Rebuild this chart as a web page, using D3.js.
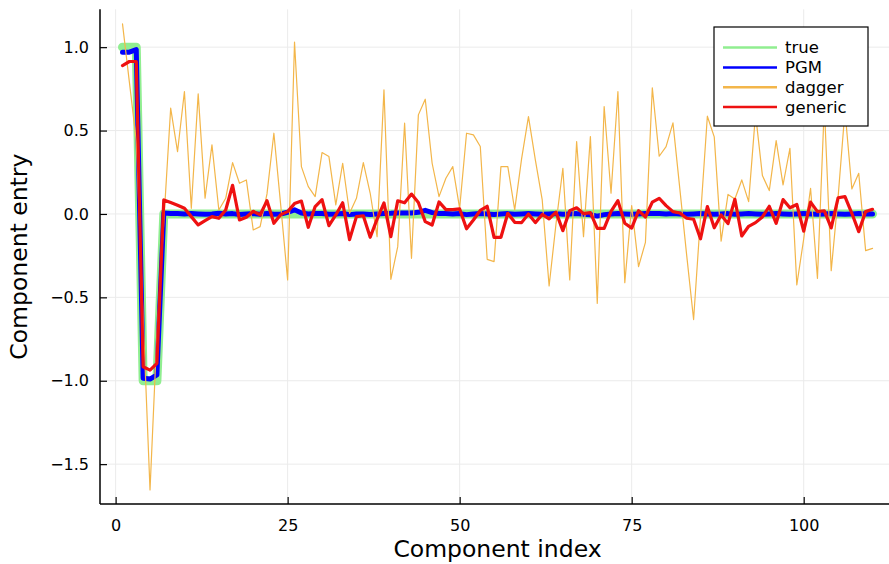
<!DOCTYPE html>
<html lang="en">
<head>
  <meta charset="UTF-8" />
  <title>Component entries</title>
  <script src="https://d3js.org/d3.v7.min.js"></script>
  <style>
    body { margin: 0; background: #fff; }
    svg { display: block; font-family: "DejaVu Sans", sans-serif; }
    .tick text { font-size: 16px; fill: #000; }
    .grid line { stroke: #ebebeb; stroke-width: 1px; }
    .series { fill: none; stroke-linejoin: round; stroke-linecap: round; }
    .axis-title { font-size: 23.5px; }
    .legend text { font-size: 16.5px; }
  </style>
</head>
<body>

<svg width="889" height="564"></svg>

<script>
  // series values, one per component index 1..110
  const trueVals = [
    1, 1, 1, -1, -1, -1, 0, 0, 0, 0,
    0, 0, 0, 0, 0, 0, 0, 0, 0, 0,
    0, 0, 0, 0, 0, 0, 0, 0, 0, 0,
    0, 0, 0, 0, 0, 0, 0, 0, 0, 0,
    0, 0, 0, 0, 0, 0, 0, 0, 0, 0,
    0, 0, 0, 0, 0, 0, 0, 0, 0, 0,
    0, 0, 0, 0, 0, 0, 0, 0, 0, 0,
    0, 0, 0, 0, 0, 0, 0, 0, 0, 0,
    0, 0, 0, 0, 0, 0, 0, 0, 0, 0,
    0, 0, 0, 0, 0, 0, 0, 0, 0, 0,
    0, 0, 0, 0, 0, 0, 0, 0, 0, 0
  ];
  const pgm = [
    0.97, 0.97, 0.985, -0.985, -0.99, -0.965, 0.005, 0.003, 0.002, 0.0,
    0.002, 0.0, -0.002, 0.0, 0.004, 0.0, 0.002, -0.003, 0.0, 0.002,
    -0.002, 0.003, -0.002, 0.0, 0.01, 0.025, 0.006, 0.0, 0.002, 0.003,
    -0.002, 0.0, 0.003, -0.004, 0.0, 0.0, -0.003, 0.0, 0.003, 0.004,
    0.006, 0.005, 0.006, 0.01, 0.022, 0.008, 0.003, 0.002, 0.0, 0.002,
    -0.004, 0.0, 0.002, 0.0, -0.003, 0.0, 0.002, -0.002, 0.0, 0.002,
    0.0, -0.002, 0.0, 0.002, -0.002, 0.0, 0.002, -0.002, -0.005, -0.013,
    -0.004, 0.0, 0.002, 0.0, -0.002, 0.0, 0.002, 0.003, 0.002, 0.0,
    0.002, 0.0, -0.002, 0.0, 0.002, 0.0, -0.002, 0.0, 0.002, -0.002,
    0.0, 0.002, 0.0, -0.002, 0.0, 0.002, 0.0, -0.002, 0.0, 0.002,
    0.0, -0.002, 0.0, 0.002, 0.0, -0.002, 0.0, 0.002, 0.0, 0.0
  ];
  const dagger = [
    1.14, 0.79, 0.44, -0.62, -1.655, -0.72, -0.05, 0.634, 0.374, 0.734,
    0.034, 0.72, 0.094, 0.414, 0.024, 0.094, 0.308, 0.184, 0.204, -0.096,
    -0.076, 0.12, 0.484, 0.05, -0.396, 1.03, 0.284, 0.164, 0.104, 0.368,
    0.344, 0.054, 0.304, 0.004, 0.094, 0.308, 0.124, -0.136, 0.744, -0.392,
    -0.196, 0.544, -0.266, 0.594, 0.688, 0.304, 0.104, 0.214, 0.284, 0.034,
    0.484, 0.474, 0.404, -0.272, -0.286, 0.284, 0.284, 0.024, 0.33, 0.584,
    0.324, 0.084, -0.432, -0.06, 0.274, -0.396, 0.434, -0.136, 0.464, -0.536,
    0.644, 0.124, 0.733, -0.412, 0.05, -0.316, -0.17, 0.756, 0.346, 0.404,
    0.546, 0.15, -0.25, -0.633, -0.02, 0.586, 0.462, -0.163, 0.117, 0.09,
    0.204, 0.074, 0.6, 0.23, 0.14, 0.44, 0.174, 0.394, -0.426, -0.15,
    0.154, -0.386, 0.65, -0.34, 0.1, 0.62, 0.15, 0.244, -0.22, -0.206
  ];
  const generic = [
    0.89, 0.914, 0.914, -0.916, -0.936, -0.896, 0.084, 0.068, 0.052, 0.034,
    -0.016, -0.066, -0.04, -0.016, -0.026, 0.024, 0.172, -0.036, -0.02, 0.016,
    -0.006, 0.08, -0.056, -0.004, 0.014, 0.062, 0.077, -0.08, 0.044, 0.086,
    -0.07, -0.006, 0.067, -0.154, -0.016, -0.011, -0.14, -0.031, 0.066, -0.136,
    0.079, 0.067, 0.119, 0.069, -0.046, -0.066, 0.072, 0.026, 0.026, 0.03,
    -0.089, -0.036, 0.021, 0.046, -0.14, -0.14, 0.004, -0.05, -0.052, 0.0,
    -0.052, -0.003, -0.029, 0.011, -0.1, 0.02, 0.037, 0.002, 0.008, -0.086,
    -0.086, 0.016, 0.08, -0.056, -0.085, 0.02, -0.018, 0.071, 0.094, 0.05,
    0.014, 0.006, -0.026, -0.032, -0.149, 0.044, -0.083, -0.006, -0.058, 0.088,
    -0.132, -0.074, -0.052, -0.018, 0.046, -0.056, 0.086, 0.037, 0.057, -0.103,
    0.071, 0.014, 0.019, -0.084, 0.097, 0.104, 0.004, -0.106, 0.014, 0.028
  ];
  const xTicks = [0, 25, 50, 75, 100];
  const yTicks = [-1.5, -1.0, -0.5, 0.0, 0.5, 1.0];

  const series = [
    {name: "true",    values: trueVals, color: "#90ee90", width: 9},
    {name: "PGM",     values: pgm,      color: "#0000ff", width: 5},
    {name: "dagger",  values: dagger,   color: "#f3b64a", width: 1.2},
    {name: "generic", values: generic,  color: "#ee1111", width: 3.2}
  ];

  const svg = d3.select("svg");
  const plotLeft = 100, plotRight = 895, plotTop = 9.3, plotBottom = 504;

  const x = d3.scaleLinear().domain([-2.27, 113.27]).range([plotLeft, plotRight]);
  const y = d3.scaleLinear().domain([-1.739, 1.227]).range([plotBottom, plotTop]);

  // grid
  const grid = svg.append("g").attr("class", "grid");
  grid.selectAll(".gx").data(xTicks).enter().append("line")
    .attr("x1", d => x(d)).attr("x2", d => x(d))
    .attr("y1", plotTop).attr("y2", plotBottom);
  grid.selectAll(".gy").data(yTicks).enter().append("line")
    .attr("x1", plotLeft).attr("x2", plotRight)
    .attr("y1", d => y(d)).attr("y2", d => y(d));

  // lines
  const lineGen = d3.line()
    .x((d, i) => x(i + 1))
    .y(d => y(d));

  svg.selectAll(".series").data(series).enter().append("path")
    .attr("class", "series")
    .attr("d", d => lineGen(d.values))
    .attr("stroke", d => d.color)
    .attr("stroke-width", d => d.width);

  // axes (ticks inside)
  const xAxis = svg.append("g")
    .attr("transform", `translate(0,${plotBottom})`)
    .call(d3.axisBottom(x).tickValues(xTicks).tickSize(-7).tickPadding(16).tickFormat(d3.format("d")));
  const yAxis = svg.append("g")
    .attr("transform", `translate(${plotLeft},0)`)
    .call(d3.axisLeft(y).tickValues(yTicks).tickSize(-7).tickPadding(11).tickFormat(d3.format(".1f")));
  [xAxis, yAxis].forEach(a => {
    a.select(".domain").remove();
    a.selectAll(".tick line").attr("stroke", "#000").attr("stroke-width", 1.2);
    a.selectAll(".tick text").attr("font-family", "DejaVu Sans");
  });

  svg.append("line").attr("x1", plotLeft).attr("x2", plotRight).attr("y1", plotBottom).attr("y2", plotBottom)
    .attr("stroke", "#000").attr("stroke-width", 1.5);
  svg.append("line").attr("x1", plotLeft).attr("x2", plotLeft).attr("y1", plotTop).attr("y2", plotBottom)
    .attr("stroke", "#000").attr("stroke-width", 1.5);

  // axis titles
  svg.append("text")
    .attr("class", "axis-title")
    .attr("x", (plotLeft + plotRight) / 2)
    .attr("y", 557)
    .attr("text-anchor", "middle")
    .text("Component index");

  svg.append("text")
    .attr("class", "axis-title")
    .attr("transform", `translate(27,${(plotTop + plotBottom) / 2}) rotate(-90)`)
    .attr("text-anchor", "middle")
    .text("Component entry");

  // legend
  const legend = svg.append("g").attr("class", "legend");
  legend.append("rect")
    .attr("x", 714).attr("y", 27).attr("width", 154).attr("height", 99)
    .attr("fill", "#fff").attr("stroke", "#000").attr("stroke-width", 1.2);

  const item = legend.selectAll(".item").data(series).enter().append("g")
    .attr("transform", (d, i) => `translate(0,${47.6 + i * 19.8})`);
  item.append("line")
    .attr("x1", 723).attr("x2", 777)
    .attr("stroke", d => d.color)
    .attr("stroke-width", 2.5);
  item.append("text")
    .attr("x", 785).attr("dy", "0.35em")
    .text(d => d.name);
</script>

</body>
</html>
